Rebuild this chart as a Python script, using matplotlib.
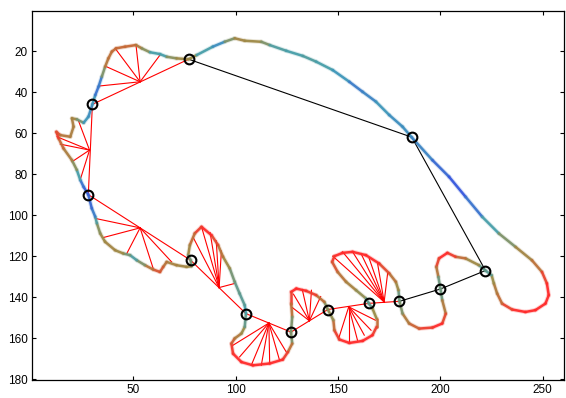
import numpy as np
import matplotlib
matplotlib.use("Agg")
import matplotlib.pyplot as plt
from matplotlib.collections import LineCollection
from matplotlib.colors import LinearSegmentedColormap

# ---------------- data ----------------
contour_x = [77.0, 80.9, 88.8, 94.6, 99.5, 104.4, 112.5, 116.6, 124.7, 132.8,
             139.3, 147.4, 155.5, 162.0, 168.5, 175.0, 181.5, 186.0, 196.1, 204.2,
             212.3, 220.4, 228.5, 236.7, 244.7, 249.6, 252.0, 252.9, 251.3, 246.4,
             241.5, 235.0, 230.1, 227.7, 226.1, 225.0, 222.0, 218.8, 212.3, 207.4,
             203.4, 199.3, 198.0, 199.0, 200.0, 200.9, 202.6, 200.9, 196.1, 189.6,
             184.7, 181.5, 180.0, 179.5, 178.2, 175.0, 170.1, 163.6, 157.1, 152.2,
             148.2, 147.1, 149.8, 153.9, 158.8, 163.6, 165.0, 166.8, 168.8, 168.8,
             166.8, 162.0, 155.5, 150.6, 148.2, 147.7, 145.0, 143.3, 139.3, 134.4,
             129.6, 127.1, 127.1, 127.6, 127.0, 127.6, 125.5, 123.0, 116.6, 108.4,
             102.8, 98.7, 97.9, 99.5, 102.8, 104.4, 105.0, 104.4, 101.9, 99.5,
             97.1, 93.8, 91.4, 88.2, 83.3, 80.0, 77.6, 76.8, 78.0, 78.4,
             76.0, 71.1, 66.3, 64.6, 63.0, 59.7, 55.7, 51.7, 48.4, 45.1,
             41.1, 36.2, 33.8, 32.2, 31.4, 29.7, 28.0, 25.7, 24.1, 22.4,
             20.0, 15.9, 13.5, 12.4, 14.3, 19.2, 20.8, 20.0, 22.4, 25.7,
             28.1, 30.0, 31.4, 33.0, 34.6, 36.2, 37.8, 39.5, 41.6, 46.0,
             51.3, 54.1, 58.1, 63.0, 66.3, 71.1]
contour_y = [24.0, 22.0, 17.9, 15.5, 13.8, 15.0, 15.5, 17.1, 19.9, 22.4,
             25.2, 29.3, 35.0, 39.9, 44.7, 51.2, 56.9, 62.1, 73.2, 81.3,
             91.1, 100.8, 108.9, 115.5, 122.0, 127.7, 133.3, 139.0, 143.1, 146.3,
             147.2, 146.0, 143.1, 138.2, 133.3, 129.3, 127.0, 124.4, 121.1, 120.3,
             118.4, 121.1, 125.2, 130.1, 136.0, 141.5, 148.0, 152.8, 154.8, 155.3,
             152.8, 148.0, 142.0, 136.6, 132.5, 128.4, 123.6, 119.5, 117.9, 118.4,
             120.0, 122.8, 127.7, 132.5, 136.6, 140.6, 143.0, 145.5, 150.4, 154.5,
             158.5, 161.3, 162.3, 160.6, 156.1, 151.2, 146.0, 142.3, 139.0, 136.9,
             135.8, 137.4, 143.1, 149.6, 157.0, 162.6, 166.7, 170.4, 172.3, 173.2,
             171.6, 167.5, 162.6, 160.1, 157.7, 154.5, 148.0, 143.9, 138.2, 132.5,
             126.0, 120.3, 114.6, 109.8, 105.7, 108.9, 114.6, 119.5, 122.0, 124.9,
             125.2, 124.4, 122.8, 125.2, 127.7, 126.5, 124.4, 122.0, 119.5, 118.7,
             117.1, 113.0, 108.9, 104.0, 100.8, 96.7, 90.0, 86.2, 82.9, 78.0,
             73.2, 67.5, 62.6, 59.4, 61.0, 61.8, 56.9, 52.8, 53.3, 55.0,
             52.0, 46.0, 41.5, 37.4, 32.5, 27.7, 23.6, 20.3, 18.7, 17.9,
             17.1, 18.7, 20.6, 21.5, 22.8, 23.6]
contour_val = [0.55, 0.45, 0.10, 0.30, 0.55, 0.55, 0.50, 0.35, 0.25, 0.30,
               0.30, 0.25, 0.20, 0.10, 0.25, 0.20, 0.20, 0.20, 0.15, 0.05,
               0.05, 0.20, 0.35, 0.50, 0.60, 0.80, 1.00, 1.00, 1.00, 1.00,
               1.00, 1.00, 0.80, 0.65, 0.60, 0.40, 0.25, 0.45, 0.60, 0.85,
               1.00, 1.00, 0.80, 0.50, 0.25, 0.50, 0.75, 1.00, 1.00, 0.85,
               0.70, 0.55, 0.30, 0.45, 0.60, 0.75, 1.00, 1.00, 1.00, 1.00,
               1.00, 0.90, 0.75, 0.60, 0.55, 0.40, 0.30, 0.40, 0.60, 0.85,
               1.00, 1.00, 1.00, 1.00, 0.85, 0.60, 0.35, 0.55, 0.85, 1.00,
               1.00, 1.00, 0.85, 0.55, 0.30, 0.55, 0.85, 1.00, 1.00, 1.00,
               1.00, 1.00, 0.90, 0.70, 0.55, 0.45, 0.25, 0.30, 0.35, 0.35,
               0.45, 0.60, 0.75, 1.00, 1.00, 0.85, 0.60, 0.50, 0.30, 0.50,
               0.55, 0.55, 0.60, 0.75, 0.85, 0.80, 0.55, 0.30, 0.30, 0.50,
               0.55, 0.55, 0.50, 0.40, 0.20, 0.10, 0.10, 0.05, 0.20, 0.35,
               0.55, 0.65, 0.85, 1.00, 0.70, 0.60, 0.60, 0.60, 0.50, 0.30,
               0.15, 0.25, 0.20, 0.05, 0.25, 0.60, 0.70, 0.70, 0.75, 0.75,
               0.75, 0.50, 0.40, 0.15, 0.40, 0.50]

# polygon vertices (circled points), in contour order
poly_x = [77, 186, 222, 200, 180, 165, 145, 127, 105, 78, 28, 30]
poly_y = [24, 62, 127, 136, 142, 143, 146, 157, 148, 122, 90, 46]
# edge kind: 0 = black edge, 1 = red edge with fan
edge_red = [0, 0, 0, 0, 1, 1, 1, 1, 1, 1, 1, 1]

# fan apex on each red edge (edges 4..11)
apex_x = [172.5, 155.2, 136.0, 116.2, 91.9, 53.3, 28.6, 53.3]
apex_y = [142.3, 144.7, 151.5, 152.6, 135.3, 106.2, 68.3, 35.0]
fan_x = [
    [147.4, 152.2, 157.1, 161.2, 165.2, 169.3, 174.2],
    [150.3, 155.2, 159.5, 162.8, 166.1, 168.2],
    [127.6, 128.2, 132.5, 137.0, 141.5],
    [98.7, 101.9, 107.6, 112.5, 116.6, 121.4, 124.7],
    [79.3, 83.3, 87.5, 90.5, 93.0, 99.5],
    [31.4, 35.4, 46.8, 59.7, 68.7],
    [23.2, 12.7, 14.3, 20.0, 24.0],
    [41.1, 51.3, 63.0, 37.0, 33.0],
]
fan_y = [
    [120.0, 117.9, 117.9, 118.7, 121.1, 123.6, 128.4],
    [160.1, 161.8, 161.0, 158.5, 156.1, 151.2],
    [145.0, 138.5, 136.2, 136.6, 139.7],
    [163.4, 169.1, 173.2, 173.2, 172.3, 170.7, 166.7],
    [111.0, 105.7, 108.5, 112.5, 117.5, 133.3],
    [101.6, 110.9, 118.7, 126.0, 122.8],
    [54.0, 61.8, 65.4, 74.0, 82.9],
    [18.7, 17.1, 22.0, 27.7, 37.1],
]

x_ticks = [50, 100, 150, 200, 250]
y_ticks = [20, 40, 60, 80, 100, 120, 140, 160, 180]

# ---------------- plot ----------------
plt.rcParams['font.family'] = ['Liberation Sans', 'DejaVu Sans']
fig = plt.figure(figsize=(5.66, 3.98), dpi=100)
ax = fig.add_axes([32 / 566, 17.7 / 398, (564.3 - 32) / 566, (387 - 17.7) / 398])

cmap = LinearSegmentedColormap.from_list(
    "cm", [(0.0, "#3446e6"), (0.25, "#3fa0b4"), (0.5, "#9a8c48"),
           (0.75, "#c46a36"), (1.0, "#ff2b2b")])

# red fans and red edges
n = len(poly_x)
ri = 0
for i in range(n):
    j = (i + 1) % n
    if edge_red[i]:
        ax.plot([poly_x[i], poly_x[j]], [poly_y[i], poly_y[j]], color="red", lw=0.8, zorder=2)
        for fx, fy in zip(fan_x[ri], fan_y[ri]):
            ax.plot([apex_x[ri], fx], [apex_y[ri], fy], color="red", lw=0.8, zorder=2)
        ri += 1
    else:
        ax.plot([poly_x[i], poly_x[j]], [poly_y[i], poly_y[j]], color="black", lw=0.8, zorder=2)

# contour colored by value
cx = np.array(contour_x + [contour_x[0]])
cy = np.array(contour_y + [contour_y[0]])
cv = np.array(contour_val + [contour_val[0]])
pts = np.column_stack([cx, cy]).reshape(-1, 1, 2)
segs = np.concatenate([pts[:-1], pts[1:]], axis=1)
segval = 0.5 * (cv[:-1] + cv[1:])
halo = LineCollection(segs, colors=cmap(segval), linewidths=3.2, alpha=0.2,
                      capstyle="round", zorder=3)
ax.add_collection(halo)
lc = LineCollection(segs, colors=cmap(segval), linewidths=1.8, alpha=0.95,
                    capstyle="round", zorder=4)
ax.add_collection(lc)

# circles
ax.plot(poly_x, poly_y, linestyle="none", marker="o", ms=7, mfc="none",
        mec="black", mew=1.5, zorder=5)

ax.set_xlim(0.5, 260.5)
ax.set_ylim(180.5, 0.5)
ax.set_xticks(x_ticks)
ax.set_yticks(y_ticks)
ax.tick_params(direction="in", length=3, width=0.8, top=True, right=True,
               labelsize=8.5, pad=3, colors="black")
for s in ax.spines.values():
    s.set_linewidth(0.9)

fig.savefig("out.png", dpi=100)
